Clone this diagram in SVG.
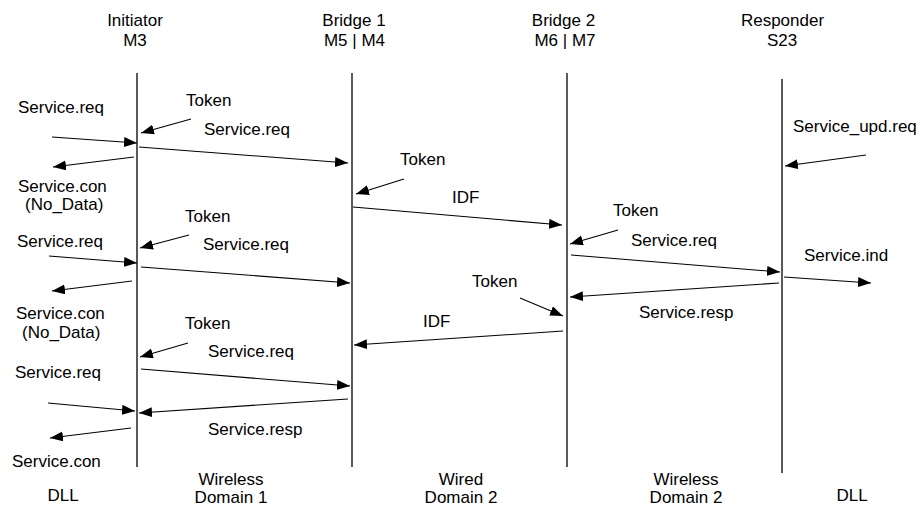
<svg xmlns="http://www.w3.org/2000/svg" width="920" height="507" viewBox="0 0 920 507">
<style>
text { font-family: "Liberation Sans", Arial, sans-serif; font-size: 17px; fill: #000; }
.c { text-anchor: middle; }
.life { stroke: #000; stroke-width: 1.3; fill: none; }
.msg { stroke: #000; stroke-width: 1.1; fill: none; marker-end: url(#ah); }
</style>
<defs>
<marker id="ah" markerUnits="userSpaceOnUse" markerWidth="14" markerHeight="11" refX="13" refY="5" orient="auto">
<path d="M0,0 L13,5 L0,10 z" fill="#000"/>
</marker>
</defs>
<rect width="920" height="507" fill="#fff"/>
<g id="initiator">
<text class="c" x="135" y="26">Initiator</text>
<text class="c" x="135" y="46">M3</text>
<line class="life" x1="137" y1="73" x2="137" y2="467"/>
</g>
<g id="bridge1">
<text class="c" x="354" y="26">Bridge 1</text>
<text class="c" x="354.5" y="46">M5 | M4</text>
<line class="life" x1="352" y1="73" x2="352" y2="467"/>
</g>
<g id="bridge2">
<text class="c" x="563.5" y="26">Bridge 2</text>
<text class="c" x="565" y="46">M6 | M7</text>
<line class="life" x1="567" y1="73" x2="567" y2="467"/>
</g>
<g id="responder">
<text class="c" x="782.5" y="26">Responder</text>
<text class="c" x="782" y="46">S23</text>
<line class="life" x1="782" y1="79" x2="782" y2="473"/>
</g>
<g id="connectors">
<line class="msg" x1="52" y1="137" x2="137" y2="143"/>
<line class="msg" x1="191" y1="119" x2="141" y2="133"/>
<line class="msg" x1="139" y1="147" x2="348" y2="163"/>
<line class="msg" x1="134" y1="157" x2="53" y2="167"/>
<line class="msg" x1="404" y1="179" x2="356" y2="194"/>
<line class="msg" x1="353" y1="207" x2="562" y2="225"/>
<line class="msg" x1="866" y1="155" x2="785" y2="166"/>
<line class="msg" x1="618" y1="230" x2="570" y2="244"/>
<line class="msg" x1="189" y1="235" x2="140" y2="248"/>
<line class="msg" x1="49" y1="256" x2="137" y2="263"/>
<line class="msg" x1="141" y1="267" x2="350" y2="283"/>
<line class="msg" x1="132" y1="281" x2="52" y2="291"/>
<line class="msg" x1="571" y1="255" x2="780" y2="272"/>
<line class="msg" x1="784" y1="277" x2="871" y2="283"/>
<line class="msg" x1="779" y1="283" x2="570" y2="297"/>
<line class="msg" x1="520" y1="298" x2="563" y2="316"/>
<line class="msg" x1="563" y1="331" x2="354" y2="345"/>
<line class="msg" x1="188" y1="343" x2="140" y2="357"/>
<line class="msg" x1="141" y1="369" x2="350" y2="386"/>
<line class="msg" x1="48" y1="403" x2="135" y2="411"/>
<line class="msg" x1="348" y1="399" x2="139" y2="413"/>
<line class="msg" x1="131" y1="428" x2="50" y2="438"/>
</g>
<g id="labels">
<text x="18" y="113">Service.req</text>
<text x="186" y="106">Token</text>
<text x="204" y="135">Service.req</text>
<text x="18" y="192">Service.con</text>
<text x="25" y="210">(No_Data)</text>
<text x="400" y="165">Token</text>
<text x="452" y="203">IDF</text>
<text x="793" y="132">Service_upd.req</text>
<text x="613" y="216">Token</text>
<text x="185" y="222">Token</text>
<text x="17" y="247">Service.req</text>
<text x="203" y="250">Service.req</text>
<text x="631" y="246">Service.req</text>
<text x="804" y="261">Service.ind</text>
<text x="472" y="287">Token</text>
<text x="639" y="318">Service.resp</text>
<text x="16" y="319">Service.con</text>
<text x="22" y="338">(No_Data)</text>
<text x="185" y="329">Token</text>
<text x="423" y="327">IDF</text>
<text x="208" y="357">Service.req</text>
<text x="15" y="378">Service.req</text>
<text x="208" y="435">Service.resp</text>
<text x="12" y="467">Service.con</text>
<text class="c" x="63" y="501">DLL</text>
<text class="c" x="231" y="485">Wireless</text>
<text class="c" x="231" y="503">Domain 1</text>
<text class="c" x="461" y="485">Wired</text>
<text class="c" x="461" y="503">Domain 2</text>
<text class="c" x="686" y="485">Wireless</text>
<text class="c" x="686" y="503">Domain 2</text>
<text class="c" x="852" y="501">DLL</text>
</g>
</svg>
